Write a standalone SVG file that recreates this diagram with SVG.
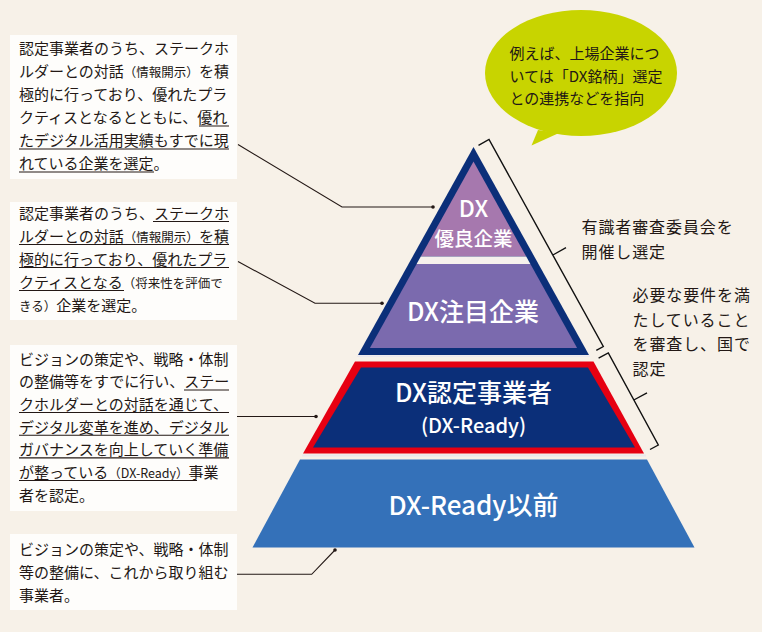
<svg xmlns="http://www.w3.org/2000/svg" width="762" height="632" viewBox="0 0 762 632">
<style>
.t{font-family:"Noto Sans CJK JP","Noto Sans",sans-serif;font-size:15px;fill:#231815}
.s{font-size:12.5px}
.r{font-family:"Noto Sans CJK JP","Noto Sans",sans-serif;font-size:16px;fill:#231815;letter-spacing:0.9px}
.w{font-family:"Noto Sans CJK JP","Noto Sans",sans-serif;fill:#ffffff;font-weight:500;text-anchor:middle}
.box{fill:#fefdfb}
.ul{stroke:#231815;stroke-width:1.1;fill:none}
.cn{stroke:#231815;stroke-width:1.1;fill:none}
.dot{fill:#231815}
.br{stroke:#111111;stroke-width:1.4;fill:none}
</style>
<rect x="0" y="0" width="762" height="632" fill="#f7f1e8"/>

<g id="bubble">
<ellipse cx="581" cy="73" rx="96" ry="63" fill="#c8d400"/>
<polygon points="538,130 531.5,145.5 559,133" fill="#c8d400"/>
<text class="t" x="509.5" y="59">例えば、上場企業につ</text>
<text class="t" x="509.5" y="81.5">いては「DX銘柄」選定</text>
<text class="t" x="509.5" y="104">との連携などを指向</text>
</g>

<g id="tier-top-frame">
<polygon points="473.5,147 589,355 358,355" fill="#0b2f79"/>
<line x1="357" y1="356.3" x2="590" y2="356.3" stroke="#ebe8ef" stroke-width="1.5"/>
</g>
<g id="tier-yuryo">
<polygon points="473.5,161.5 526.2,256.5 420.8,256.5" fill="#a678ae"/>
<polygon points="420.8,256.5 526.2,256.5 530.4,264 416.6,264" fill="#f6f1ec"/>
<text class="w" x="473.5" y="216.5" font-size="23">DX</text>
<text class="w" x="473.5" y="245.5" font-size="19.5">優良企業</text>
</g>
<g id="tier-chumoku">
<polygon points="416.6,264 530.4,264 577.1,348 369.9,348" fill="#7b6aae"/>
<text class="w" x="473" y="321" font-size="25">DX注目企業</text>
</g>
<g id="tier-nintei">
<polygon points="355,361.5 593.5,361.5 644,453.5 303,453.5" fill="#e60012"/>
<polygon points="361,367.5 588,367.5 635,447.5 313,447.5" fill="#0b2f79"/>
<line x1="302" y1="455.5" x2="646" y2="455.5" stroke="#e9e8ec" stroke-width="2"/>
<text class="w" x="473.5" y="402" font-size="25">DX認定事業者</text>
<text class="w" x="473.5" y="432.8" font-size="20">(DX-Ready)</text>
</g>
<g id="tier-before">
<polygon points="300,459.5 647,459.5 694.5,547.5 252.5,547.5" fill="#3471b9"/>
<text class="w" x="473.5" y="515" font-size="26">DX-Ready以前</text>
</g>

<g id="brackets">
<path class="br" d="M478.5,145.3 L489,139.5 L603.3,346.5 L596.3,350.4 M552.9,255 L566,247.7"/>
<path class="br" d="M598.6,358.2 L608.3,353 L658.3,445 L650,449.5 M633.8,400 L647,392.8"/>
</g>

<g id="note-committee">
<text class="r" x="581.5" y="233">有識者審査委員会を</text>
<text class="r" x="581.5" y="258">開催し選定</text>
</g>
<g id="note-state">
<text class="r" x="632.5" y="301" letter-spacing="1.2">必要な要件を満</text>
<text class="r" x="632.5" y="325.5" letter-spacing="1.2">たしていること</text>
<text class="r" x="632.5" y="350" letter-spacing="1.2">を審査し、国で</text>
<text class="r" x="632.5" y="374.5" letter-spacing="1.2">認定</text>
</g>

<g id="connectors">
<polyline class="cn" points="238,144.5 342,207 433,207"/>
<circle class="dot" cx="433" cy="207" r="1.8"/>
<polyline class="cn" points="238,261.5 315,303.3 382,303.3"/>
<circle class="dot" cx="382" cy="303.3" r="1.8"/>
<polyline class="cn" points="237,416.5 316,416.5"/>
<circle class="dot" cx="316" cy="416.5" r="1.8"/>
<polyline class="cn" points="237,574.3 311.7,574.3 335,550"/>
<circle class="dot" cx="335" cy="550" r="1.8"/>
</g>

<g id="box-yuryo">
<rect class="box" x="10" y="35" width="227" height="144"/>
<text class="t" x="19" y="54.3">認定事業者のうち、ステークホ</text>
<text class="t" x="19" y="77.3">ルダーとの対話<tspan class="s">（情報開示）</tspan>を積</text>
<text class="t" x="19" y="100.3">極的に行っており、優れたプラ</text>
<text class="t" x="19" y="123.3">クティスとなるとともに、優れ</text>
<text class="t" x="19" y="146.3">たデジタル活用実績もすでに現</text>
<text class="t" x="19" y="169.3">れている企業を選定。</text>
<path class="ul" d="M199,126 H229 M19,149 H229 M19,172 H154"/>
</g>

<g id="box-chumoku">
<rect class="box" x="10" y="202" width="227" height="118"/>
<text class="t" x="19" y="218.8">認定事業者のうち、ステークホ</text>
<text class="t" x="19" y="241.8">ルダーとの対話<tspan class="s">（情報開示）</tspan>を積</text>
<text class="t" x="19" y="264.8">極的に行っており、優れたプラ</text>
<text class="t" x="19" y="287.8">クティスとなる<tspan class="s" font-size="13">（将来性を評価で</tspan></text>
<text class="t" x="19" y="310.8"><tspan class="s">きる）</tspan>企業を選定。</text>
<path class="ul" d="M153,221.5 H229 M19,244.5 H229 M19,267.5 H229 M19,290.5 H124"/>
</g>

<g id="box-nintei">
<rect class="box" x="10" y="345" width="227" height="166"/>
<text class="t" x="19" y="364.5">ビジョンの策定や、戦略・体制</text>
<text class="t" x="19" y="387.2">の整備等をすでに行い、ステー</text>
<text class="t" x="19" y="409.8">クホルダーとの対話を通じて、</text>
<text class="t" x="19" y="432.5">デジタル変革を進め、デジタル</text>
<text class="t" x="19" y="455.2">ガバナンスを向上していく準備</text>
<text class="t" x="19" y="477.8">が整っている<tspan class="s" font-size="13">（DX-Ready）</tspan>事業</text>
<text class="t" x="19" y="500.5">者を認定。</text>
<path class="ul" d="M184,390 H229 M19,412.5 H229 M19,435.2 H229 M19,457.9 H229 M19,480.5 H197"/>
</g>

<g id="box-before">
<rect class="box" x="10" y="534" width="227" height="76"/>
<text class="t" x="19" y="555">ビジョンの策定や、戦略・体制</text>
<text class="t" x="19" y="578">等の整備に、これから取り組む</text>
<text class="t" x="19" y="601">事業者。</text>
</g>
</svg>
